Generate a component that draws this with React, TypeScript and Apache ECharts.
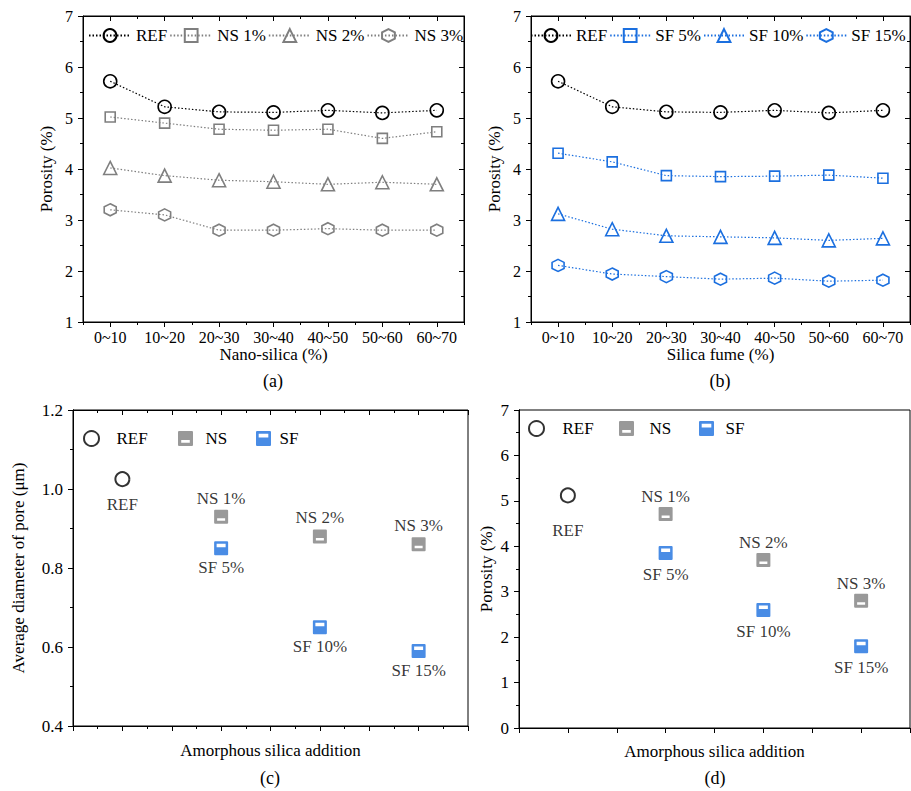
import React, { useEffect, useRef } from "react";
import * as echarts from "echarts";

const FONT = "Liberation Serif";

// ---- Data ----
const depthCats = ["0~10", "10~20", "20~30", "30~40", "40~50", "50~60", "60~70"];
const refPorosity = [5.72, 5.22, 5.12, 5.11, 5.15, 5.1, 5.15];
const ns1Porosity = [5.02, 4.9, 4.78, 4.76, 4.78, 4.6, 4.73];
const ns2Porosity = [4.02, 3.87, 3.78, 3.75, 3.7, 3.74, 3.7];
const ns3Porosity = [3.2, 3.1, 2.8, 2.8, 2.83, 2.8, 2.8];
const sf5Porosity = [4.31, 4.14, 3.87, 3.85, 3.86, 3.88, 3.82];
const sf10Porosity = [3.12, 2.82, 2.69, 2.67, 2.65, 2.6, 2.64];
const sf15Porosity = [2.11, 1.94, 1.89, 1.84, 1.86, 1.8, 1.82];

const groups = ["Control", "Level 1", "Level 2", "Level 3"];
const nsLabels = ["NS 1%", "NS 2%", "NS 3%"];
const sfLabels = ["SF 5%", "SF 10%", "SF 15%"];
const refDiameter = 1.025;
const nsDiameter = [0.93, 0.88, 0.86];
const sfDiameter = [0.85, 0.65, 0.59];
const refAvgPorosity = 5.12;
const nsAvgPorosity = [4.71, 3.7, 2.8];
const sfAvgPorosity = [3.85, 2.6, 1.8];

const BLACK = "#000";
const GRAY = "#7f7f7f";
const BLUE = "#1b6fdf";
const CLEAR = "rgba(0,0,0,0)";

const HEX = "path://M5,0 L9.33,2.5 L9.33,7.5 L5,10 L0.67,7.5 L0.67,2.5 Z";
const NS_SYM =
  "path://M1,0 H13 Q14,0 14,1 V13 Q14,14 13,14 H1 Q0,14 0,13 V1 Q0,0 1,0 Z M3,8.5 V11 H11 V8.5 Z";
const SF_SYM =
  "path://M1,0 H13 Q14,0 14,1 V13 Q14,14 13,14 H1 Q0,14 0,13 V1 Q0,0 1,0 Z M2.5,2.5 V6 H11.5 V2.5 Z";

const txt = (size: number) => ({ color: BLACK, fontSize: size, fontFamily: FONT, fontWeight: "normal" as const });

function buildOption() {
  const xAxes: any[] = [];
  const yAxes: any[] = [];
  const addX = (a: any) => (xAxes.push(a), xAxes.length - 1);
  const addY = (a: any) => (yAxes.push(a), yAxes.length - 1);
  const line = { show: true, lineStyle: { color: BLACK, width: 1 } };

  const catAxes = (gridIndex: number, name: string) => {
    const main = addX({
      type: "category", gridIndex, data: depthCats, position: "bottom", boundaryGap: true,
      axisLine: line,
      axisTick: { show: true, alignWithLabel: true, interval: 0, length: 5, lineStyle: { color: BLACK } },
      axisLabel: { show: true, interval: 0, margin: 7, ...txt(16) },
      splitLine: { show: false },
      name, nameLocation: "middle", nameGap: 24, nameTextStyle: txt(17),
    });
    addX({
      type: "category", gridIndex, data: depthCats, position: "bottom", boundaryGap: true,
      axisLine: { show: false },
      axisTick: { show: true, alignWithLabel: false, interval: 0, length: 3, lineStyle: { color: BLACK } },
      axisLabel: { show: false }, splitLine: { show: false },
    });
    addX({
      type: "category", gridIndex, data: depthCats, position: "top", boundaryGap: true,
      axisLine: line,
      axisTick: { show: true, inside: true, alignWithLabel: true, interval: 0, length: 5, lineStyle: { color: BLACK } },
      axisLabel: { show: false }, splitLine: { show: false },
    });
    addX({
      type: "category", gridIndex, data: depthCats, position: "top", boundaryGap: true,
      axisLine: { show: false },
      axisTick: { show: true, inside: true, alignWithLabel: false, interval: 0, length: 3, lineStyle: { color: BLACK } },
      axisLabel: { show: false }, splitLine: { show: false },
    });
    return main;
  };

  const valYAxes = (
    gridIndex: number, min: number, max: number, interval: number, name: string, nameGap: number,
    fontSize: number, fmt?: (v: number) => string
  ) => {
    const left = addY({
      type: "value", gridIndex, min, max, interval, position: "left",
      axisLine: line,
      axisTick: { show: true, length: 5, lineStyle: { color: BLACK } },
      minorTick: { show: true, splitNumber: 2, length: 3, lineStyle: { color: BLACK } },
      axisLabel: { margin: 10, ...txt(fontSize), formatter: fmt },
      splitLine: { show: false },
      name, nameLocation: "middle", nameGap, nameTextStyle: txt(17),
    });
    addY({
      type: "value", gridIndex, min, max, interval, position: "right",
      axisLine: line,
      axisTick: { show: true, inside: true, length: 5, lineStyle: { color: BLACK } },
      minorTick: { show: true, splitNumber: 2, length: 3, lineStyle: { color: BLACK } },
      axisLabel: { show: false }, splitLine: { show: false },
    });
    return left;
  };

  const tickXAxes = (gridIndex: number, max: number, interval: number, nameGap: number) => {
    addX({
      type: "value", gridIndex, min: 0, max, interval, position: "bottom",
      axisLine: line,
      axisTick: { show: true, length: 5, lineStyle: { color: BLACK } },
      minorTick: { show: interval > 1, splitNumber: 2, length: 3, lineStyle: { color: BLACK } },
      axisLabel: { show: false }, splitLine: { show: false },
      name: "Amorphous silica addition", nameLocation: "middle", nameGap, nameTextStyle: txt(17),
    });
    addX({
      type: "value", gridIndex, min: 0, max, interval, position: "top",
      axisLine: line,
      axisTick: { show: true, inside: true, length: 5, lineStyle: { color: BLACK } },
      minorTick: { show: interval > 1, splitNumber: 2, length: 3, lineStyle: { color: BLACK } },
      axisLabel: { show: false }, splitLine: { show: false },
    });
    return addX({ type: "category", gridIndex, data: groups, show: false, boundaryGap: true });
  };

  const xa = catAxes(0, "Nano-silica (%)");
  const ya = valYAxes(0, 1, 7, 1, "Porosity (%)", 28, 16);
  const xb = catAxes(1, "Silica fume (%)");
  const yb = valYAxes(1, 1, 7, 1, "Porosity (%)", 28, 16);
  const xc = tickXAxes(2, 16, 2, 16);
  const yc = valYAxes(2, 0.4, 1.2, 0.2, "Average diameter of pore (μm)", 46, 17, (v: number) => v.toFixed(1));
  const xd = tickXAxes(3, 8, 1, 15);
  const yd = valYAxes(3, 0, 7, 1, "Porosity (%)", 24, 17);

  const lineSeries = (name: string, data: number[], xi: number, yi: number, color: string, symbol: string, size: number) => ({
    type: "line", name, data, xAxisIndex: xi, yAxisIndex: yi,
    symbol, symbolSize: size,
    itemStyle: { color: CLEAR, borderColor: color, borderWidth: 1.6 },
    lineStyle: { color, width: 1.2, type: [1.5, 2] },
    z: 3,
  });

  const scatter = (
    name: string, items: { name: string; value: [number, number] }[], xi: number, yi: number,
    symbol: string, color: string, hollow: boolean, pos: string, dist: number, size: number
  ) => ({
    type: "scatter", name, data: items, xAxisIndex: xi, yAxisIndex: yi, symbol, symbolSize: size,
    itemStyle: hollow ? { color: CLEAR, borderColor: color, borderWidth: 2 } : { color },
    label: { show: true, position: pos, distance: dist, formatter: "{b}", ...txt(17) },
  });

  const series: any[] = [
    lineSeries("REF", refPorosity, xa, ya, BLACK, "circle", 13),
    lineSeries("NS 1%", ns1Porosity, xa, ya, GRAY, "rect", 10),
    lineSeries("NS 2%", ns2Porosity, xa, ya, GRAY, "triangle", 13),
    lineSeries("NS 3%", ns3Porosity, xa, ya, GRAY, HEX, 12),
    lineSeries("REF ", refPorosity, xb, yb, BLACK, "circle", 13),
    lineSeries("SF 5%", sf5Porosity, xb, yb, BLUE, "rect", 10),
    lineSeries("SF 10%", sf10Porosity, xb, yb, BLUE, "triangle", 13),
    lineSeries("SF 15%", sf15Porosity, xb, yb, BLUE, HEX, 12),
    scatter("REF  ", [{ name: "REF", value: [0, refDiameter] }], xc, yc, "circle", BLACK, true, "bottom", 9, 14),
    scatter("NS", nsDiameter.map((v, i) => ({ name: nsLabels[i], value: [i + 1, v] as [number, number] })), xc, yc, NS_SYM, GRAY, false, "top", 3, 14),
    scatter("SF", sfDiameter.map((v, i) => ({ name: sfLabels[i], value: [i + 1, v] as [number, number] })), xc, yc, SF_SYM, BLUE, false, "bottom", 4, 14),
    scatter("REF   ", [{ name: "REF", value: [0, refAvgPorosity] }], xd, yd, "circle", BLACK, true, "bottom", 19, 14),
    scatter("NS ", nsAvgPorosity.map((v, i) => ({ name: nsLabels[i], value: [i + 1, v] as [number, number] })), xd, yd, NS_SYM, GRAY, false, "top", 2, 14),
    scatter("SF ", sfAvgPorosity.map((v, i) => ({ name: sfLabels[i], value: [i + 1, v] as [number, number] })), xd, yd, SF_SYM, BLUE, false, "bottom", 6, 14),
  ];

  const legendBase = {
    orient: "horizontal", padding: 0, itemHeight: 16,
    textStyle: txt(17), formatter: (n: string) => n.trim(), selectedMode: false,
  };
  const legend: any[] = [
    { ...legendBase, data: ["REF", "NS 1%", "NS 2%", "NS 3%"], left: 88, top: 27, width: 400, itemWidth: 42, itemGap: 2 },
    { ...legendBase, data: ["REF ", "SF 5%", "SF 10%", "SF 15%"], left: 530, top: 27, width: 400, itemWidth: 40, itemGap: 2 },
    { ...legendBase, data: ["REF  "], left: 83, top: 430, itemWidth: 40, itemHeight: 15 },
    { ...legendBase, data: ["NS"], left: 178, top: 430, itemWidth: 30, itemHeight: 15 },
    { ...legendBase, data: ["SF"], left: 256, top: 430, itemWidth: 22, itemHeight: 15 },
    { ...legendBase, data: ["REF   "], left: 528, top: 420, itemWidth: 42, itemHeight: 15 },
    { ...legendBase, data: ["NS "], left: 619, top: 420, itemWidth: 36, itemHeight: 15 },
    { ...legendBase, data: ["SF "], left: 699, top: 420, itemWidth: 28, itemHeight: 15 },
  ];

  const caption = (text: string, x: number, y: number) => ({
    type: "text", x, y,
    style: { text, fill: BLACK, fontSize: 18, fontFamily: FONT, textAlign: "center", verticalAlign: "middle" },
  });

  return {
    animation: false,
    backgroundColor: "#fff",
    textStyle: { fontFamily: FONT },
    grid: [
      { left: 83, top: 16, width: 381, height: 306, show: true, borderColor: BLACK, borderWidth: 1 },
      { left: 531, top: 16, width: 379, height: 306, show: true, borderColor: BLACK, borderWidth: 1 },
      { left: 73, top: 410, width: 395, height: 316, show: true, borderColor: BLACK, borderWidth: 1 },
      { left: 519, top: 410, width: 391, height: 318, show: true, borderColor: BLACK, borderWidth: 1 },
    ],
    xAxis: xAxes,
    yAxis: yAxes,
    legend,
    series,
    graphic: [
      caption("(a)", 273, 381),
      caption("(b)", 720, 381),
      caption("(c)", 270, 778),
      caption("(d)", 715, 778),
    ],
  };
}

export default function App() {
  const ref = useRef<HTMLDivElement>(null);
  useEffect(() => {
    if (!ref.current) return;
    const chart = echarts.init(ref.current, undefined, { renderer: "svg" });
    chart.setOption(buildOption() as any);
    return () => chart.dispose();
  }, []);
  return (
    <div
      ref={ref}
      style={{ position: "absolute", left: 0, top: 0, width: 911, height: 791 }}
    />
  );
}
